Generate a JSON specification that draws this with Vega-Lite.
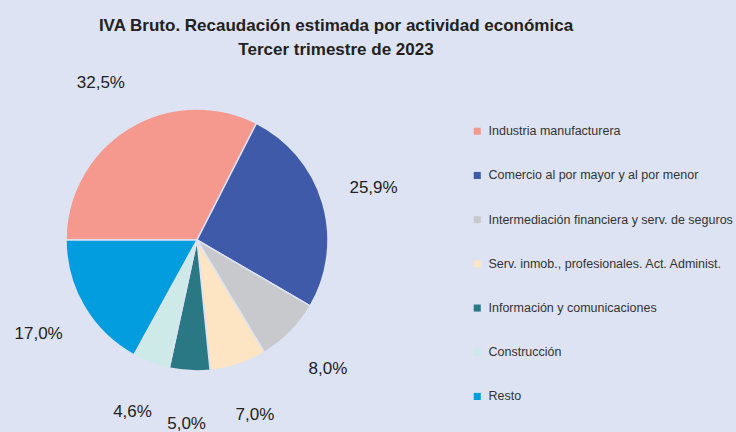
{
  "$schema": "https://vega.github.io/schema/vega-lite/v6.json",
  "width": 394,
  "height": 360,
  "autosize": {"type": "none"},
  "padding": {"top": 60, "left": 0, "right": 342, "bottom": 12},
  "background": "#dde3f2",
  "config": {
    "view": {"stroke": null},
    "font": "Liberation Sans",
    "locale": {"number": {"decimal": ",", "thousands": ".", "grouping": [3], "currency": ["", " €"]}},
    "legend": {
      "orient": "none",
      "legendX": 471,
      "legendY": 65,
      "title": null,
      "symbolType": "square",
      "symbolSize": 50,
      "symbolStrokeWidth": 0,
      "labelFontSize": 12.5,
      "labelColor": "#333333",
      "rowPadding": 31.2,
      "labelLimit": 300,
      "labelOffset": 5
    }
  },
  "title": {
    "text": ["IVA Bruto. Recaudación estimada por actividad económica", "Tercer trimestre de 2023"],
    "fontSize": 17,
    "fontWeight": "bold",
    "color": "#231f20",
    "anchor": "middle",
    "dx": 139,
    "offset": 1,
    "lineHeight": 24
  },
  "data": {
    "values": [
      {"sector": "Industria manufacturera", "valor": 0.325, "orden": 1},
      {"sector": "Comercio al por mayor y al por menor", "valor": 0.259, "orden": 2},
      {"sector": "Intermediación financiera y serv. de seguros", "valor": 0.080, "orden": 3},
      {"sector": "Serv. inmob., profesionales. Act. Administ.", "valor": 0.070, "orden": 4},
      {"sector": "Información y comunicaciones", "valor": 0.050, "orden": 5},
      {"sector": "Construcción", "valor": 0.046, "orden": 6},
      {"sector": "Resto", "valor": 0.170, "orden": 7}
    ]
  },
  "encoding": {
    "theta": {"field": "valor", "type": "quantitative", "stack": true, "scale": {"range": [-1.5708, 4.7124]}},
    "order": {"field": "orden", "type": "quantitative"}
  },
  "layer": [
    {
      "mark": {"type": "arc", "outerRadius": 131, "stroke": "#dde3f2", "strokeWidth": 1.5},
      "encoding": {
        "color": {
          "field": "sector",
          "type": "nominal",
          "scale": {
            "domain": ["Industria manufacturera", "Comercio al por mayor y al por menor", "Intermediación financiera y serv. de seguros", "Serv. inmob., profesionales. Act. Administ.", "Información y comunicaciones", "Construcción", "Resto"],
            "range": ["#f5998f", "#3f5aa9", "#c8c9cc", "#fde4c3", "#2a7884", "#cde9e8", "#029ddf"]
          }
        }
      }
    },
    {
      "mark": {"type": "text", "radius": 184, "fontSize": 17, "color": "#222222"},
      "encoding": {
        "text": {"field": "valor", "type": "quantitative", "format": ".1%"},
        "detail": {"field": "sector", "type": "nominal"}
      }
    }
  ]
}
